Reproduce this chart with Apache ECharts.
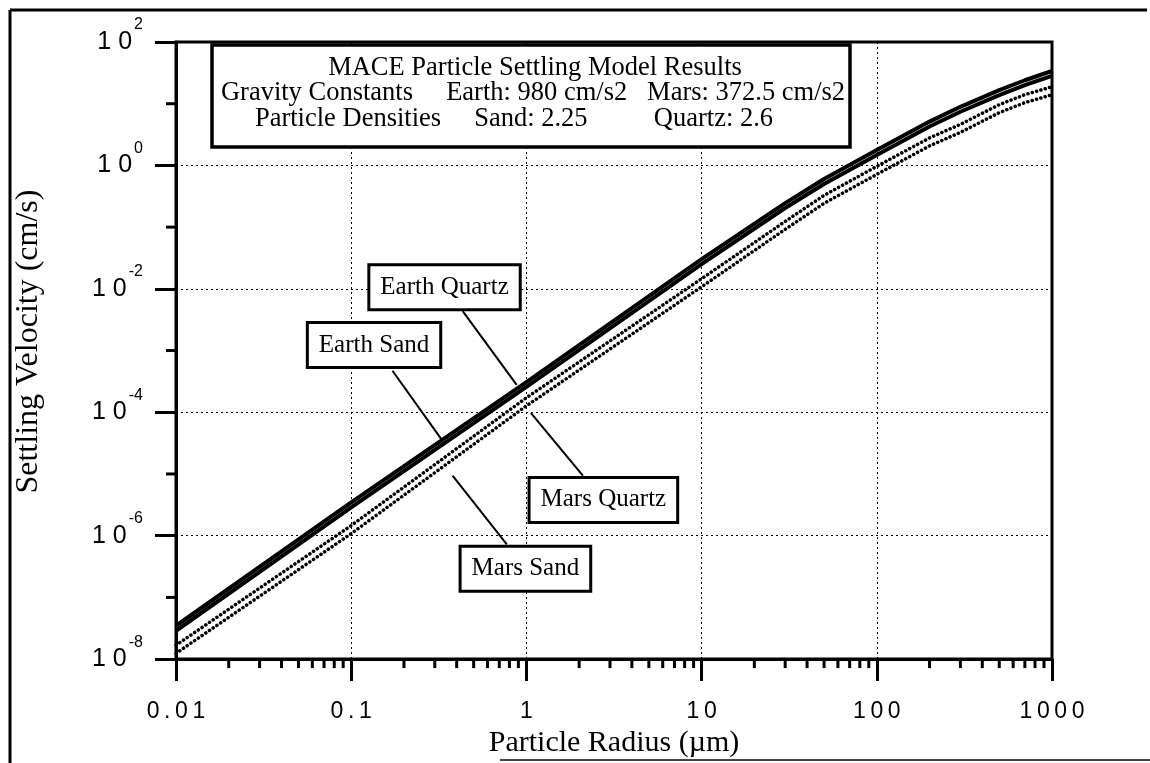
<!DOCTYPE html>
<html><head><meta charset="utf-8">
<script src="https://cdn.jsdelivr.net/npm/echarts@6/dist/echarts.min.js"></script>
<style>html,body{margin:0;padding:0;background:#fff}#c{width:1150px;height:763px}</style>
</head><body><div id="c"></div>
<script>
// ---- data ----
const radius      = [0.01, 0.1, 1, 10, 30, 50, 100, 200, 300, 500, 700, 1000];
const earthQuartz = [3.47e-8, 3.47e-6, 3.09e-4, 0.0302, 0.245, 0.603, 1.78, 5.13, 8.91, 16.6, 24.0, 33.9];
const earthSand   = [2.88e-8, 2.88e-6, 2.57e-4, 0.0251, 0.204, 0.501, 1.48, 4.27, 7.41, 13.8, 20.0, 28.2];
const marsQuartz  = [1.68e-8, 1.46e-6, 1.72e-4, 0.0146, 0.124, 0.327, 0.966, 2.79, 4.62, 9.66, 14.0, 18.8];
const marsSand    = [1.24e-8, 1.08e-6, 1.27e-4, 0.0108, 0.0923, 0.243, 0.716, 2.07, 3.43, 7.16, 10.4, 14.0];

const xTickLabels = ['0.01', '0.1', '1', '10', '100', '1000'];
const yMinorTicks = [10, 0.1, 1e-3, 1e-5, 1e-7];
const xDecades = [0.01, 0.1, 1, 10, 100];
const xMinorSteps = [2, 3, 4, 5, 6, 7, 8, 9];

const headerLines = [
  'MACE Particle Settling Model Results',
  'Gravity Constants     Earth: 980 cm/s2   Mars: 372.5 cm/s2',
  'Particle Densities     Sand: 2.25          Quartz: 2.6'
];

const annotationNames = ['Earth Quartz', 'Earth Sand', 'Mars Quartz', 'Mars Sand'];
const annotationBoxAt = [[0.341, 0.0106], [0.135, 1.23e-3], [2.75, 3.8e-6], [0.987, 2.9e-7]];
const leaderFrom      = [[0.433, 4.35e-3], [0.172, 4.7e-4], [2.10, 9.4e-6], [0.773, 7.2e-7]];
const leaderTo        = [[0.88, 2.77e-4], [0.333, 3.4e-5], [1.06, 9.8e-5], [0.379, 9.4e-6]];

// ---- build ----
const SERIF = '"Liberation Serif", "Times New Roman", serif';
const SANS = '"Liberation Sans", Arial, sans-serif';
const pair = (xs, ys) => xs.map((x, i) => [x, ys[i]]);
const xMinor = [];
xDecades.forEach(d => xMinorSteps.forEach(s => xMinor.push([d * s, 1e-8])));
const yMinor = yMinorTicks.map(v => [0.01, v]);
const annData = annotationNames.map((n, i) => [
  annotationBoxAt[i][0], annotationBoxAt[i][1],
  leaderFrom[i][0], leaderFrom[i][1], leaderTo[i][0], leaderTo[i][1]
]);

const solid = { color: '#000', width: 4, join: 'round' };
const dotted = { color: '#000', width: 3.5, type: [0.1, 4.4], cap: 'round', join: 'round' };
const headerCenters = [535, 533, 514];
const lineSeries = (name, ys, style) => ({
  name, type: 'line', data: pair(radius, ys), showSymbol: false, symbol: 'none',
  lineStyle: style, z: 5
});

const chart = echarts.init(document.getElementById('c'), null, { renderer: 'canvas' });
chart.setOption({
  backgroundColor: '#fff',
  animation: false,
  grid: { left: 176, right: 98, top: 42, bottom: 101, show: true, borderColor: '#000', borderWidth: 3, backgroundColor: 'transparent' },
  xAxis: {
    type: 'log', logBase: 10, min: 0.01, max: 1000, interval: 1,
    name: 'Particle Radius (\u00b5m)', nameLocation: 'middle', nameGap: 66,
    nameTextStyle: { fontFamily: SERIF, fontSize: 30, color: '#000' },
    axisLine: { lineStyle: { color: '#000', width: 3 } },
    axisTick: { show: true, length: 22, lineStyle: { color: '#000', width: 3 } },
    axisLabel: {
      margin: 41, color: '#000', fontFamily: SANS, fontSize: 23, showMinLabel: true, showMaxLabel: true, hideOverlap: false,
      formatter: v => (xTickLabels[Math.round(Math.log10(v)) + 2] || '').split('').join('\u2009')
    },
    splitLine: { show: true, lineStyle: { color: '#000', width: 1, type: [2, 3] } }
  },
  yAxis: {
    type: 'log', logBase: 10, min: 1e-8, max: 100, interval: 2,
    name: 'Settling Velocity (cm/s)', nameLocation: 'middle', nameGap: 131,
    nameTextStyle: { fontFamily: SERIF, fontSize: 32, color: '#000', padding: [0, 0, 0, 18] },
    axisLine: { lineStyle: { color: '#000', width: 3 } },
    axisTick: { show: true, length: 21, lineStyle: { color: '#000', width: 3 } },
    axisLabel: {
      margin: 33, showMinLabel: true, showMaxLabel: true, hideOverlap: false,
      fontFamily: SANS, fontSize: 25, color: '#000',
      formatter: v => { const e = Math.round(Math.log10(v)); return '{b|1 0}{e|' + e + '}'; },
      rich: {
        b: { fontFamily: SANS, fontSize: 25, lineHeight: 50, color: '#000', verticalAlign: 'middle' },
        e: { fontFamily: SANS, fontSize: 16, lineHeight: 16, color: '#000', verticalAlign: 'top', padding: [0, 0, 0, 2] }
      }
    },
    splitLine: { show: true, lineStyle: { color: '#000', width: 1, type: [2, 3] } }
  },
  graphic: [
    { type: 'line', shape: { x1: 10, y1: 10, x2: 10, y2: 763 }, style: { stroke: '#000', lineWidth: 3 } },
    { type: 'line', shape: { x1: 10, y1: 10, x2: 1147, y2: 10 }, style: { stroke: '#000', lineWidth: 3 } },
    { type: 'line', shape: { x1: 500, y1: 760, x2: 1150, y2: 760 }, style: { stroke: '#444', lineWidth: 2 } },
    { type: 'rect', shape: { x: 212, y: 45, width: 638, height: 102 }, style: { fill: '#fff', stroke: '#000', lineWidth: 3.5 }, z: 100 }
  ].concat(headerLines.map((t, i) => ({
    type: 'text', x: headerCenters[i], y: 68 + i * 25.5, z: 101,
    style: { text: t, font: '26.5px ' + SERIF, fill: '#000', align: 'center', verticalAlign: 'middle', textAlign: 'center', textVerticalAlign: 'middle' }
  }))),
  series: [
    lineSeries('Earth Quartz', earthQuartz, solid),
    lineSeries('Earth Sand', earthSand, solid),
    lineSeries('Mars Quartz', marsQuartz, dotted),
    lineSeries('Mars Sand', marsSand, dotted),
    { name: 'xMinorTicks', type: 'custom', clip: false, silent: true, data: xMinor, encode: { x: 0, y: 1 },
      renderItem: (p, api) => { const c = api.coord([api.value(0), api.value(1)]);
        return { type: 'line', shape: { x1: c[0], y1: c[1], x2: c[0], y2: c[1] + 9 }, style: { stroke: '#000', lineWidth: 3 } }; } },
    { name: 'yMinorTicks', type: 'custom', clip: false, silent: true, data: yMinor, encode: { x: 0, y: 1 },
      renderItem: (p, api) => { const c = api.coord([api.value(0), api.value(1)]);
        return { type: 'line', shape: { x1: c[0], y1: c[1], x2: c[0] - 10, y2: c[1] }, style: { stroke: '#000', lineWidth: 3 } }; } },
    { name: 'annotations', type: 'custom', clip: false, silent: true, data: annData, z: 10,
      encode: { x: [0, 2, 4], y: [1, 3, 5] },
      renderItem: (p, api) => {
        const i = p.dataIndex;
        const c = api.coord([api.value(0), api.value(1)]);
        const a = api.coord([api.value(2), api.value(3)]);
        const b = api.coord([api.value(4), api.value(5)]);
        return { type: 'group', children: [
          { type: 'line', shape: { x1: a[0], y1: a[1], x2: b[0], y2: b[1] }, style: { stroke: '#000', lineWidth: 2 } },
          { type: 'text', x: c[0], y: c[1], style: { text: annotationNames[i], font: '25px ' + SERIF, fill: '#000',
              align: 'center', verticalAlign: 'middle', backgroundColor: '#fff', borderColor: '#000', borderWidth: 3,
              padding: [9, 10, 8, 10] } }
        ] };
      } }
  ]
});
</script></body></html>
